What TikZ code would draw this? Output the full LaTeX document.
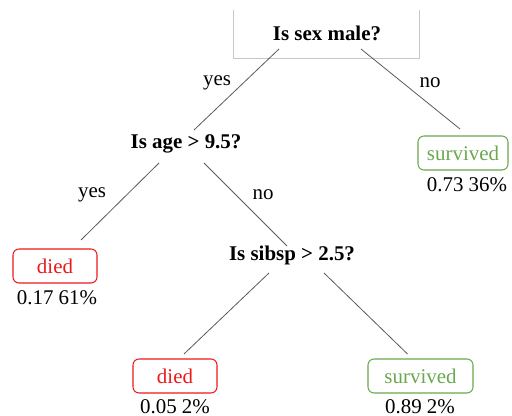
\documentclass[tikz,border=0pt]{standalone}
\usepackage{fontspec}
\setmainfont{Liberation Serif}
\usetikzlibrary{calc}
\definecolor{diedred}{RGB}{235,25,25}
\definecolor{survgreen}{RGB}{106,168,79}
\definecolor{edgegray}{RGB}{90,90,90}
\definecolor{framegray}{RGB}{200,200,200}
\tikzset{
  question/.style={font=\fontsize{15.7}{18}\selectfont\bfseries, inner sep=0pt},
  leafbox/.style={draw, rounded corners=4.5pt, line width=0.8pt, minimum height=25.5pt, inner sep=0pt, font=\fontsize{15.7}{18}\selectfont},
  died/.style={leafbox, draw=diedred, text=diedred, minimum width=63pt},
  surv/.style={leafbox, draw=survgreen, text=survgreen},
  stat/.style={font=\fontsize{15.7}{18}\selectfont, inner sep=0pt},
  elabel/.style={font=\fontsize{15.7}{18}\selectfont, inner sep=0pt},
  edge/.style={draw=edgegray, line width=0.6pt}
}
\begin{document}
\begin{tikzpicture}[x=0.75pt, y=-0.75pt]
\useasboundingbox (0,0) rectangle (512,416);
% root frame
\draw[framegray, line width=0.7pt] (233,10) -- (233,58) -- (419,58) -- (419,10);
\node[question] (root) at (327,33) {Is sex male?};
\node[question] (q2) at (186,144) {Is age > 9.5?};
\node[question] (q3) at (292,255) {Is sibsp > 2.5?};

\node[surv, minimum width=67.5pt] (leaf1) at (463,153) {survived};
\node[stat] (lab1) at (467,185) {0.73 36\%};
\node[died] (leaf2) at (55,266) {died};
\node[stat] (lab2) at (57,298) {0.17 61\%};
\node[died] (leaf3) at (175,376) {died};
\node[stat] (lab3) at (175,407) {0.05 2\%};
\node[surv, minimum width=78.75pt] (leaf4) at (420.5,376) {survived};
\node[stat] (lab4) at (420,407) {0.89 2\%};

\draw[edge] ($(root)+(-48,16)$) -- ($(q2)+(8,-14)$);
\draw[edge] ($(root)+(34,16)$) -- ($(leaf1)+(-3,-24)$);
\draw[edge] ($(q2)+(-27,19)$) -- ($(leaf2)+(26,-26)$);
\draw[edge] ($(q2)+(18,19)$) -- ($(q3)+(-5,-9)$);
\draw[edge] ($(q3)+(-23,18)$) -- ($(leaf3)+(9,-22)$);
\draw[edge] ($(q3)+(32,18)$) -- ($(leaf4)+(-13,-22)$);

\node[elabel] (y1) at (217,83) {yes};
\node[elabel] (n1) at (430,83) {no};
\node[elabel] (y2) at (92,195) {yes};
\node[elabel] (n2) at (263,195) {no};
\end{tikzpicture}
\end{document}
